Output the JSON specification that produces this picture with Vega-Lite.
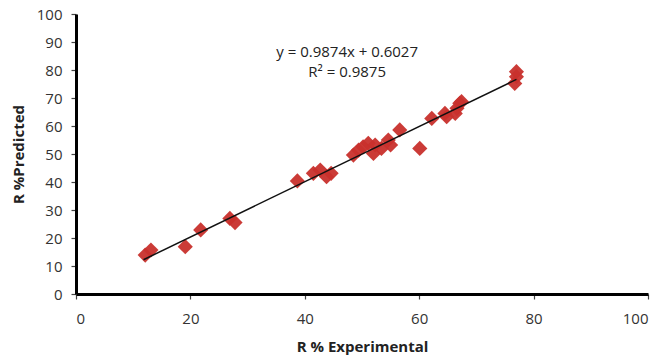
{
  "$schema": "https://vega.github.io/schema/vega-lite/v6.json",
  "width": 572,
  "height": 280,
  "autosize": {"type": "none"},
  "padding": {"left": 76, "top": 14, "right": 17, "bottom": 68},
  "background": "white",
  "config": {
    "view": {"stroke": null},
    "font": "Open Sans"
  },
  "datasets": {
    "pts": [
      {"exp": 12.1, "pred": 13.9},
      {"exp": 13.1, "pred": 15.7},
      {"exp": 19.1, "pred": 16.9},
      {"exp": 21.8, "pred": 22.9},
      {"exp": 26.9, "pred": 27.0},
      {"exp": 27.8, "pred": 25.5},
      {"exp": 38.7, "pred": 40.4},
      {"exp": 41.5, "pred": 43.1},
      {"exp": 42.7, "pred": 44.3},
      {"exp": 43.8, "pred": 41.9},
      {"exp": 44.6, "pred": 43.1},
      {"exp": 48.5, "pred": 49.6},
      {"exp": 49.4, "pred": 51.4},
      {"exp": 50.2, "pred": 52.6},
      {"exp": 51.1, "pred": 53.8},
      {"exp": 52.3, "pred": 53.2},
      {"exp": 52.0, "pred": 50.2},
      {"exp": 53.4, "pred": 52.0},
      {"exp": 54.6, "pred": 55.0},
      {"exp": 55.0, "pred": 53.2},
      {"exp": 56.6, "pred": 58.6},
      {"exp": 60.1, "pred": 52.0},
      {"exp": 62.2, "pred": 62.7},
      {"exp": 64.5, "pred": 64.5},
      {"exp": 64.8, "pred": 63.3},
      {"exp": 66.3, "pred": 64.5},
      {"exp": 66.6, "pred": 66.3},
      {"exp": 67.1, "pred": 68.1},
      {"exp": 67.4, "pred": 68.7},
      {"exp": 77.0, "pred": 79.4},
      {"exp": 77.0, "pred": 77.6},
      {"exp": 76.7, "pred": 75.2}
    ],
    "fit": [
      {"exp": 11.8, "pred": 12.25},
      {"exp": 77.0, "pred": 76.63}
    ],
    "labels": [
      {"exp": 47.4, "pred": 86.4, "text": "y = 0.9874x + 0.6027"},
      {"exp": 47.4, "pred": 79.3, "text": "R² = 0.9875"}
    ]
  },
  "encoding": {
    "x": {
      "field": "exp", "type": "quantitative",
      "scale": {"domain": [0, 100], "nice": false, "zero": true},
      "axis": {
        "title": "R % Experimental",
        "tickCount": 5,
        "labelOverlap": false,
        "grid": false,
        "domainColor": "black", "domainWidth": 3,
        "tickColor": "#444", "tickSize": 5, "tickWidth": 1.2,
        "labelFont": "Open Sans", "labelFontSize": 15, "labelColor": "#333", "labelPadding": 12,
        "titleFont": "Open Sans", "titleFontSize": 15, "titleFontWeight": "bold", "titleColor": "#222", "titlePadding": 13
      }
    },
    "y": {
      "field": "pred", "type": "quantitative",
      "scale": {"domain": [0, 100], "nice": false},
      "axis": {
        "title": "R %Predicted",
        "tickCount": 10,
        "labelOverlap": false,
        "grid": false,
        "domainColor": "black", "domainWidth": 3,
        "tickColor": "#444", "tickSize": 5, "tickWidth": 1.2,
        "labelFont": "Open Sans", "labelFontSize": 15, "labelColor": "#333", "labelPadding": 9,
        "titleFont": "Open Sans", "titleFontSize": 15, "titleFontWeight": "bold", "titleColor": "#222", "titlePadding": 10
      }
    }
  },
  "layer": [
    {
      "data": {"name": "pts"},
      "mark": {"type": "point", "shape": "diamond", "filled": true, "size": 230, "color": "#C8302C", "opacity": 0.95}
    },
    {
      "data": {"name": "fit"},
      "mark": {"type": "line", "color": "#111", "strokeWidth": 1.5}
    },
    {
      "data": {"name": "labels"},
      "mark": {"type": "text", "font": "Open Sans", "fontSize": 15, "color": "#222", "align": "center", "baseline": "middle"},
      "encoding": {
        "text": {"field": "text"}
      }
    }
  ]
}
